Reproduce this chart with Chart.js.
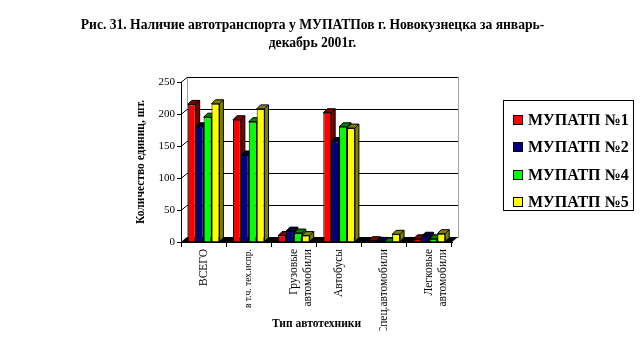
<!DOCTYPE html>
<html>
<head>
<meta charset="utf-8">
<script src="https://cdn.jsdelivr.net/npm/chart.js@4"></script>
<style>
  html, body { margin: 0; padding: 0; background: #fff; }
  #wrap { position: relative; width: 643px; height: 361px; font-family: "Liberation Serif", "Times New Roman", serif; }
  #chart { position: absolute; left: 0; top: 0; }
  #title { position: absolute; left: 0; width: 625px; top: 16px; text-align: center; font-weight: bold; font-size: 13.6px; line-height: 18px; }
  #legend { position: absolute; left: 503px; top: 100px; width: 131px; height: 111px; border: 1px solid #000; box-sizing: border-box; padding: 5px 0 0 9px; }
  #legend .row { height: 27.5px; display: flex; align-items: center; font-weight: bold; font-size: 16px; }
  #legend .sw { width: 8px; height: 8px; border: 1px solid #000; margin-right: 5px; }
</style>
</head>
<body>
<div id="wrap">
  <canvas id="chart" width="643" height="361"></canvas>
  <div id="title">Рис. 31. Наличие автотранспорта у МУПАТПов г. Новокузнецка за январь-<br>декабрь 2001г.</div>
  <div id="legend"></div>
</div>
<script>
// Data
const categories = ['ВСЕГО', 'в т.ч. тех.испр.', ['Грузовые', 'автомобили'], 'Автобусы', 'Спец.автомобили', ['Легковые', 'автомобили']];
const seriesNames = ['МУПАТП №1', 'МУПАТП №2', 'МУПАТП №4', 'МУПАТП №5'];
const mupatp1 = [215, 191, 10, 202, 2, 5];
const mupatp2 = [180, 136, 17, 157, 1, 9];
const mupatp4 = [195, 188, 14, 180, 0, 5];
const mupatp5 = [216, 208, 10, 178, 12, 13];
const yTicks = [0, 50, 100, 150, 200, 250];

const fronts = ['#ff0000', '#000080', '#00ff00', '#ffff00'];
const sides = ['#800000', '#000040', '#008000', '#808000'];
const serif = '"Liberation Serif", "Times New Roman", serif';

// Legend (HTML)
const legend = document.getElementById('legend');
seriesNames.forEach((name, i) => {
  const row = document.createElement('div');
  row.className = 'row';
  row.innerHTML = `<span class="sw" style="background:${fronts[i]}"></span>${name}`;
  legend.appendChild(row);
});

/* ---------- pseudo 3D: walls, floor, bar depth ---------- */
const WX = 6, WY = 5, BD = 4;
const depth3d = {
  id: 'depth3d',
  beforeDatasetsDraw(chart) {
    const { ctx, chartArea: a, scales: { y } } = chart;
    ctx.save();
    ctx.lineWidth = 1;
    // back wall
    ctx.strokeStyle = '#a0a0a0';
    ctx.strokeRect(a.left + WX + 0.5, a.top - WY + 0.5, a.right - a.left, a.bottom - a.top);
    // grid lines on the back + side wall
    ctx.strokeStyle = '#000';
    yTicks.forEach(v => {
      if (v === 0) return;
      const py = Math.round(y.getPixelForValue(v)) + 0.5;
      ctx.beginPath();
      ctx.moveTo(a.left, py);
      ctx.lineTo(a.left + WX, py - WY);
      ctx.lineTo(a.right + WX, py - WY);
      ctx.stroke();
    });
    // floor
    ctx.fillStyle = '#000';
    ctx.beginPath();
    ctx.moveTo(a.left, a.bottom);
    ctx.lineTo(a.left + WX, a.bottom - WY);
    ctx.lineTo(a.right + WX, a.bottom - WY);
    ctx.lineTo(a.right, a.bottom);
    ctx.closePath();
    ctx.fill();
    // bar depth faces
    chart.data.datasets.forEach((ds, i) => {
      chart.getDatasetMeta(i).data.forEach(bar => {
        const { x, y: top, base, width } = bar.getProps(['x', 'y', 'base', 'width'], true);
        const l = x - width / 2, r = x + width / 2;
        ctx.fillStyle = sides[i];
        ctx.strokeStyle = '#000';
        ctx.beginPath();
        ctx.moveTo(l, top); ctx.lineTo(l + BD, top - BD); ctx.lineTo(r + BD, top - BD);
        ctx.lineTo(r + BD, base - BD); ctx.lineTo(r, base); ctx.lineTo(r, top);
        ctx.closePath();
        ctx.fill(); ctx.stroke();
        ctx.beginPath(); ctx.moveTo(r, top); ctx.lineTo(r + BD, top - BD); ctx.stroke();
      });
    });
    ctx.restore();
  }
};

new Chart(document.getElementById('chart'), {
  type: 'bar',
  data: {
    labels: categories,
    datasets: [mupatp1, mupatp2, mupatp4, mupatp5].map((d, i) => ({
      label: seriesNames[i],
      data: d,
      backgroundColor: fronts[i],
      borderColor: '#000',
      borderWidth: 1,
      barPercentage: 1,
      categoryPercentage: 0.7
    }))
  },
  options: {
    responsive: false,
    animation: false,
    layout: { padding: { left: 134, top: 82, right: 191, bottom: 30 } },
    plugins: { legend: { display: false }, tooltip: { enabled: false } },
    scales: {
      x: {
        afterFit: s => { s.height = 89; },
        grid: { drawOnChartArea: false, color: '#000', tickLength: 5 },
        border: { color: '#000', width: 1 },
        ticks: {
          color: '#000',
          maxRotation: 90, minRotation: 90,
          padding: 2,
          font: c => ({ family: serif, size: c.index === 1 ? 9.5 : 11.5 })
        },
        title: { display: true, text: 'Тип автотехники', color: '#000', font: { family: serif, size: 11.5, weight: 'bold' }, padding: 0 }
      },
      y: {
        min: 0, max: 250,
        afterFit: s => { s.width = 47; },
        afterBuildTicks: s => { s.ticks = yTicks.map(v => ({ value: v })); },
        grid: { drawOnChartArea: false, color: '#000', tickLength: 4 },
        border: { color: '#000', width: 1 },
        ticks: { color: '#000', padding: 2, font: { family: serif, size: 11 } },
        title: { display: true, text: 'Количество единиц, шт.', color: '#000', font: { family: serif, size: 11.5, weight: 'bold' }, padding: 0 }
      }
    }
  },
  plugins: [depth3d]
});
</script>
</body>
</html>
